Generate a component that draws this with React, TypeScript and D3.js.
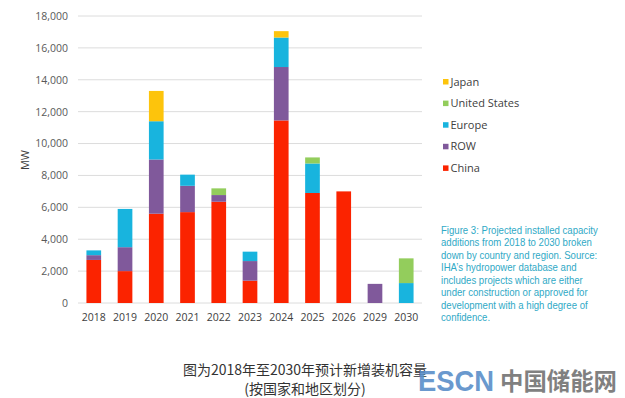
import React, { useEffect, useRef } from 'react';
import * as d3 from 'd3';

const years = ['2018', '2019', '2020', '2021', '2022', '2023', '2024', '2025', '2026', '2029', '2030'];
const china = [2700, 2000, 5600, 5700, 6350, 1400, 11450, 6900, 7000, 0, 0];
const row = [300, 1500, 3400, 1650, 420, 1230, 3350, 0, 0, 1200, 0];
const europe = [300, 2400, 2400, 700, 0, 590, 1850, 1850, 0, 0, 1250];
const unitedStates = [0, 0, 0, 0, 420, 0, 0, 380, 0, 0, 1550];
const japan = [0, 0, 1900, 0, 0, 0, 400, 0, 0, 0, 0];

const seriesNames = ['China', 'ROW', 'Europe', 'United States', 'Japan'];
const seriesColors = ['#fb2300', '#80599b', '#18b4de', '#93cd5c', '#fdc40c'];
const yTicks = [0, 2000, 4000, 6000, 8000, 10000, 12000, 14000, 16000, 18000];

const captionLines = [
  'Figure 3: Projected installed capacity',
  'additions from 2018 to 2030 broken',
  'down by country and region. Source:',
  'IHA\u2019s hydropower database and',
  'includes projects which are either',
  'under construction or approved for',
  'development with a high degree of',
  'confidence.',
];

const App: React.FC = () => {
  const chartRef = useRef<SVGSVGElement | null>(null);

  useEffect(() => {
    const width = 625;
    const height = 398;
    const plot = { left: 78, right: 422, top: 16, bottom: 303 };

    d3.select(chartRef.current).selectAll('*').remove();
    const svg = d3.select(chartRef.current)
      .attr('width', width)
      .attr('height', height);

    svg.append('rect').attr('width', width).attr('height', height).attr('fill', '#ffffff');

    const rows = years.map((year, i) => ({
      year,
      China: china[i],
      ROW: row[i],
      Europe: europe[i],
      'United States': unitedStates[i],
      Japan: japan[i],
    }));

    const xScale = d3.scaleBand()
      .domain(years)
      .range([plot.left, plot.right])
      .paddingInner(0.53)
      .paddingOuter(0.27);

    const yScale = d3.scaleLinear()
      .domain([0, 18000])
      .range([plot.bottom, plot.top]);

    // grid
    svg.append('g')
      .selectAll('line')
      .data(yTicks)
      .enter()
      .append('line')
      .attr('x1', plot.left)
      .attr('x2', plot.right)
      .attr('y1', (d) => yScale(d))
      .attr('y2', (d) => yScale(d))
      .attr('stroke', '#dcdcdc')
      .attr('stroke-width', 1);

    // y axis labels
    const yAxis = svg.append('g')
      .attr('transform', `translate(${plot.left - 10},0)`)
      .call(d3.axisLeft(yScale).tickValues(yTicks).tickSize(0).tickPadding(0).tickFormat(d3.format(',')));
    yAxis.select('.domain').remove();
    yAxis.selectAll('text')
      .attr('fill', '#595959')
      .style('font-family', '"Open Sans", sans-serif')
      .style('font-size', '10.5px');

    // x axis labels
    const xAxis = svg.append('g')
      .attr('transform', `translate(0,${plot.bottom + 11})`)
      .call(d3.axisBottom(xScale).tickSize(0).tickPadding(0));
    xAxis.select('.domain').remove();
    xAxis.selectAll('text')
      .attr('fill', '#404040')
      .style('font-family', '"Open Sans", sans-serif')
      .style('font-size', '10.5px');

    // y title
    svg.append('text')
      .attr('transform', `translate(29,160) rotate(-90)`)
      .attr('text-anchor', 'middle')
      .attr('fill', '#404040')
      .style('font-family', '"Open Sans", sans-serif')
      .style('font-size', '11px')
      .text('MW');

    // bars
    const stacked = d3.stack<any>().keys(seriesNames)(rows);
    svg.append('g')
      .selectAll('g')
      .data(stacked)
      .enter()
      .append('g')
      .attr('fill', (_, i) => seriesColors[i])
      .selectAll('rect')
      .data((d) => d.filter((p) => p[1] - p[0] > 0))
      .enter()
      .append('rect')
      .attr('x', (d) => xScale(d.data.year)!)
      .attr('y', (d) => yScale(d[1]))
      .attr('width', xScale.bandwidth())
      .attr('height', (d) => yScale(d[0]) - yScale(d[1]));

    // legend (top to bottom: Japan .. China)
    const legendOrder = seriesNames.map((name, i) => ({ name, color: seriesColors[i] })).reverse();
    const legend = svg.append('g')
      .selectAll('g')
      .data(legendOrder)
      .enter()
      .append('g')
      .attr('transform', (_, i) => `translate(443,${81.5 + i * 21.6})`);
    legend.append('rect')
      .attr('x', 0)
      .attr('y', -2.5)
      .attr('width', 5.5)
      .attr('height', 5.5)
      .attr('fill', (d) => d.color);
    legend.append('text')
      .attr('x', 7.5)
      .attr('y', 4)
      .attr('fill', '#404040')
      .style('font-family', '"Open Sans", sans-serif')
      .style('font-size', '11px')
      .text((d) => d.name);

    // figure caption
    const caption = svg.append('g').attr('transform', 'translate(441,0)');
    const capText = caption.append('g');
    capText.selectAll('text')
      .data(captionLines)
      .enter()
      .append('text')
      .attr('x', 0)
      .attr('y', (_, i) => 234 + i * 12.47)
      .attr('fill', '#2fa9c6')
      .style('font-family', '"Liberation Sans", sans-serif')
      .style('font-size', '10.5px')
      .text((d) => d);
    const first = capText.select<SVGTextElement>('text').node();
    if (first) {
      const w = first.getComputedTextLength();
      if (w > 0) capText.attr('transform', `scale(${157 / w},1)`);
    }

    // chinese caption
    svg.append('g')
      .selectAll('text')
      .data(['图为2018年至2030年预计新增装机容量', '(按国家和地区划分)'])
      .enter()
      .append('text')
      .attr('x', 305)
      .attr('y', (_, i) => 375 + i * 18.5)
      .attr('text-anchor', 'middle')
      .attr('fill', '#333333')
      .style('font-family', '"Noto Sans CJK SC", sans-serif')
      .style('font-size', '14px')
      .text((d) => d);

    // watermark
    svg.append('text')
      .attr('x', 418)
      .attr('y', 391)
      .attr('textLength', 76)
      .attr('lengthAdjust', 'spacingAndGlyphs')
      .attr('fill', '#5a8fc9')
      .attr('opacity', 0.9)
      .style('font-family', '"Liberation Sans", sans-serif')
      .style('font-weight', 'bold')
      .style('font-size', '30px')
      .text('ESCN');
    svg.append('text')
      .attr('x', 500)
      .attr('y', 390)
      .attr('textLength', 117)
      .attr('lengthAdjust', 'spacingAndGlyphs')
      .attr('fill', '#6b6b6b')
      .attr('opacity', 0.85)
      .style('font-family', '"Noto Sans CJK SC", sans-serif')
      .style('font-weight', 'bold')
      .style('font-size', '24px')
      .text('中国储能网');
  }, []);

  return <svg ref={chartRef} style={{ position: 'absolute', left: 0, top: 0, display: 'block' }}></svg>;
};

export default App;
